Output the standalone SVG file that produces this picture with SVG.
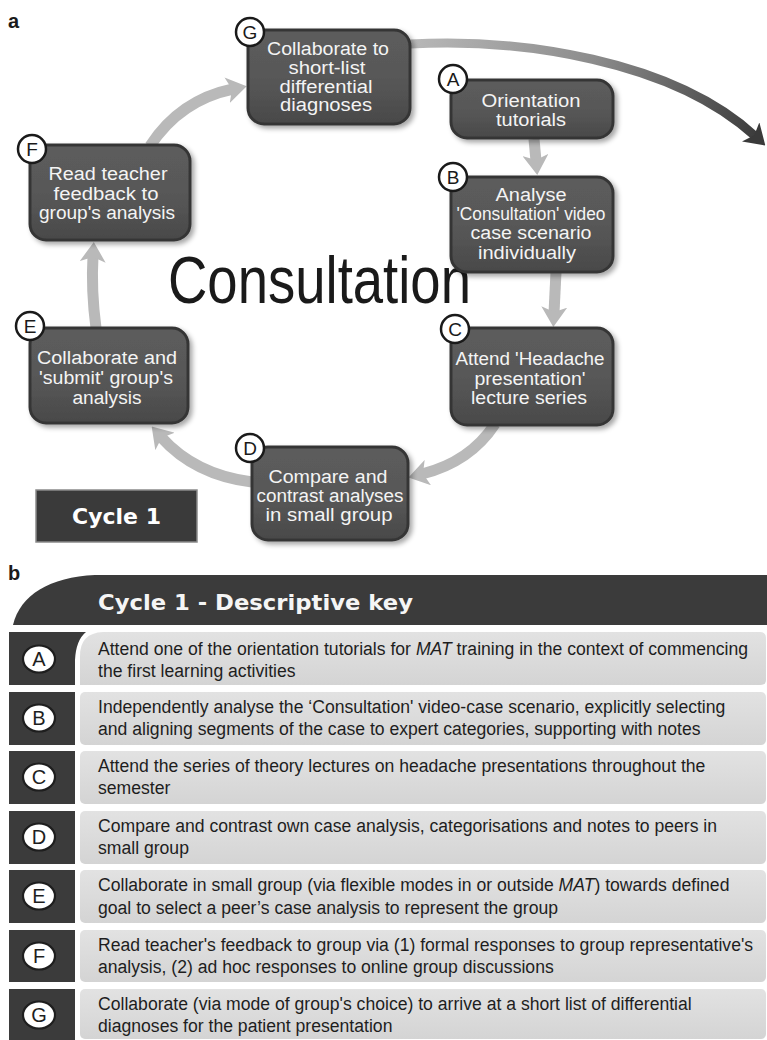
<svg xmlns="http://www.w3.org/2000/svg" width="767" height="1040" viewBox="0 0 767 1040">
<style>
.lbl{font-family:"Liberation Sans",Arial,sans-serif;font-weight:bold;font-size:20px;fill:#1a1a1a}
.box{fill:url(#boxg);stroke:#363636;stroke-width:3;filter:url(#sh)}
.nt{font-family:"Liberation Sans",Arial,sans-serif;font-size:18px;fill:#f4f4f4;text-anchor:middle}
.badge{fill:#fff;stroke:#1a1a1a;stroke-width:2.5}
.bt{font-family:"Liberation Sans",Arial,sans-serif;font-size:19px;fill:#1a1a1a;text-anchor:middle}
.conn{fill:none;stroke:#b9b9b9;stroke-width:11}
.dark{fill:#3b3b3b}
.row{fill:url(#rowg)}
.rt{font-family:"Liberation Sans",Arial,sans-serif;font-size:17.6px;fill:#1e1e1e}
.kb{fill:#fff;stroke:#1e1e1e;stroke-width:2.2}
.kt{font-family:"Liberation Sans",Arial,sans-serif;font-size:20px;fill:#1e1e1e;text-anchor:middle}
</style>
<defs>
<linearGradient id="boxg" x1="0" y1="0" x2="0" y2="1">
<stop offset="0" stop-color="#5c5c5c"/><stop offset="0.5" stop-color="#585858"/><stop offset="1" stop-color="#494949"/>
</linearGradient>
<linearGradient id="rowg" x1="0" y1="0" x2="0" y2="1">
<stop offset="0" stop-color="#e2e2e2"/><stop offset="1" stop-color="#d4d4d4"/>
</linearGradient>
<linearGradient id="bigg" gradientUnits="userSpaceOnUse" x1="410" y1="44" x2="760" y2="140">
<stop offset="0" stop-color="#b8b8b8"/><stop offset="0.5" stop-color="#8c8c8c"/><stop offset="1" stop-color="#3a3a3a"/>
</linearGradient>
<filter id="sh" x="-10%" y="-10%" width="130%" height="130%">
<feDropShadow dx="3" dy="3" stdDeviation="2.5" flood-color="#000" flood-opacity="0.35"/>
</filter>
<marker id="ah" viewBox="0 0 20 26" refX="6" refY="13" markerWidth="20" markerHeight="26" markerUnits="userSpaceOnUse" orient="auto">
<path d="M0 0 L20 13 L0 26 L5 13 Z" fill="#b9b9b9"/>
</marker>
<marker id="ahd" viewBox="0 0 20 26" refX="6" refY="13" markerWidth="20" markerHeight="26" markerUnits="userSpaceOnUse" orient="auto">
<path d="M0 0 L20 13 L0 26 L5 13 Z" fill="#3a3a3a"/>
</marker>
</defs>
<rect width="767" height="1040" fill="#fff"/>

<text x="8" y="28" class="lbl">a</text>

<g id="connectors">
<path class="conn" d="M534 139 L536 161" marker-end="url(#ah)"/>
<path class="conn" d="M556 272 L554 313" marker-end="url(#ah)"/>
<path class="conn" d="M495 424 Q470 462 422 474" marker-end="url(#ah)"/>
<path class="conn" d="M252 482 Q195 475 161 437" marker-end="url(#ah)"/>
<path class="conn" d="M96 328 Q91 290 93 256" marker-end="url(#ah)"/>
<path class="conn" d="M150 146 Q180 100 233 89" marker-end="url(#ah)"/>
<path d="M410 44 C520 38 672 60 755 136" fill="none" stroke="url(#bigg)" stroke-width="9" marker-end="url(#ahd)"/>
</g>

<text transform="scale(0.826 1)" x="203.4" y="303" font-family="Liberation Sans, Arial, sans-serif" font-size="66" fill="#1a1a1a">Consultation</text>

<g id="node-G">
<rect class="box" x="248" y="30" width="162" height="94" rx="16"/>
<text class="nt" x="328" y="55" textLength="122" lengthAdjust="spacingAndGlyphs">Collaborate to</text>
<text class="nt" x="327" y="74" textLength="77" lengthAdjust="spacingAndGlyphs">short-list</text>
<text class="nt" x="326" y="93" textLength="93" lengthAdjust="spacingAndGlyphs">differential</text>
<text class="nt" x="326" y="111" textLength="92" lengthAdjust="spacingAndGlyphs">diagnoses</text>
<circle class="badge" cx="250" cy="32" r="14"/><text class="bt" x="250" y="39">G</text>
</g>

<g id="node-A">
<rect class="box" x="451" y="80" width="162" height="58" rx="16"/>
<text class="nt" x="531" y="107" textLength="99" lengthAdjust="spacingAndGlyphs">Orientation</text>
<text class="nt" x="531" y="126" textLength="70" lengthAdjust="spacingAndGlyphs">tutorials</text>
<circle class="badge" cx="453" cy="79" r="14"/><text class="bt" x="453" y="86">A</text>
</g>

<g id="node-B">
<rect class="box" x="451" y="177" width="162" height="95" rx="16"/>
<text class="nt" x="531" y="201" textLength="71" lengthAdjust="spacingAndGlyphs">Analyse</text>
<text class="nt" x="531" y="220" textLength="149" lengthAdjust="spacingAndGlyphs">'Consultation' video</text>
<text class="nt" x="531" y="239" textLength="121" lengthAdjust="spacingAndGlyphs">case scenario</text>
<text class="nt" x="527" y="259" textLength="98" lengthAdjust="spacingAndGlyphs">individually</text>
<circle class="badge" cx="453" cy="177" r="14"/><text class="bt" x="453" y="184">B</text>
</g>

<g id="node-C">
<rect class="box" x="451" y="328" width="162" height="97" rx="16"/>
<text class="nt" x="530" y="365" textLength="149" lengthAdjust="spacingAndGlyphs">Attend 'Headache</text>
<text class="nt" x="530" y="385" textLength="111" lengthAdjust="spacingAndGlyphs">presentation'</text>
<text class="nt" x="529" y="404" textLength="116" lengthAdjust="spacingAndGlyphs">lecture series</text>
<circle class="badge" cx="455" cy="329" r="14"/><text class="bt" x="455" y="336">C</text>
</g>

<g id="node-D">
<rect class="box" x="252" y="447" width="156" height="93" rx="16"/>
<text class="nt" x="328" y="483" textLength="119" lengthAdjust="spacingAndGlyphs">Compare and</text>
<text class="nt" x="330" y="502" textLength="147" lengthAdjust="spacingAndGlyphs">contrast analyses</text>
<text class="nt" x="329" y="521" textLength="127" lengthAdjust="spacingAndGlyphs">in small group</text>
<circle class="badge" cx="250" cy="448" r="14"/><text class="bt" x="250" y="455">D</text>
</g>

<g id="node-E">
<rect class="box" x="30" y="328" width="158" height="95" rx="16"/>
<text class="nt" x="107" y="364" textLength="140" lengthAdjust="spacingAndGlyphs">Collaborate and</text>
<text class="nt" x="106" y="384" textLength="134" lengthAdjust="spacingAndGlyphs">'submit' group's</text>
<text class="nt" x="107" y="404" textLength="69" lengthAdjust="spacingAndGlyphs">analysis</text>
<circle class="badge" cx="30" cy="326" r="14"/><text class="bt" x="30" y="333">E</text>
</g>

<g id="node-F">
<rect class="box" x="30" y="145" width="160" height="95" rx="16"/>
<text class="nt" x="108" y="180" textLength="119" lengthAdjust="spacingAndGlyphs">Read teacher</text>
<text class="nt" x="106" y="200" textLength="105" lengthAdjust="spacingAndGlyphs">feedback to</text>
<text class="nt" x="107" y="219" textLength="136" lengthAdjust="spacingAndGlyphs">group's analysis</text>
<circle class="badge" cx="32" cy="149" r="14"/><text class="bt" x="32" y="156">F</text>
</g>

<g id="cycle-label">
<rect x="36" y="490" width="161" height="52" fill="#3a3a3a" stroke="#8a8a8a" stroke-width="1.5"/>
<text x="116.5" y="524" font-family="DejaVu Sans, Verdana, sans-serif" font-weight="bold" font-size="22" fill="#fff" text-anchor="middle">Cycle 1</text>
</g>

<text x="8" y="580" class="lbl">b</text>

<g id="key-header">
<path class="dark" d="M13 625 C20 595 50 577 95 575 L767 575 L767 625 Z"/>
<text x="98" y="610" font-family="DejaVu Sans, Verdana, sans-serif" font-weight="bold" font-size="21" fill="#f5f5f5" textLength="315" lengthAdjust="spacingAndGlyphs">Cycle 1 - Descriptive key</text>
</g>

<g id="key-A">
<path class="dark" d="M9 632 L86 632 Q76 640 75 660 L75 685 L9 685 Z"/>
<path class="row" d="M80 685 L80 656 Q80 633 103 632 L760 632 Q766 632 766 638 L766 680 Q766 685 760 685 Z"/>
<ellipse class="kb" cx="39" cy="659" rx="16" ry="13.5"/><text class="kt" x="39" y="666">A</text>
<text class="rt" x="98" y="655">Attend one of the orientation tutorials for <tspan font-style="italic">MAT</tspan> training in the context of commencing</text>
<text class="rt" x="98" y="677">the first learning activities</text>
</g>

<g id="key-B">
<rect class="dark" x="9" y="692" width="66" height="53"/>
<rect class="row" x="80" y="692" width="686" height="53" rx="5"/>
<ellipse class="kb" cx="39" cy="718" rx="16" ry="13.5"/><text class="kt" x="39" y="725">B</text>
<text class="rt" x="98" y="713">Independently analyse the ‘Consultation' video-case scenario, explicitly selecting</text>
<text class="rt" x="98" y="735">and aligning segments of the case to expert categories, supporting with notes</text>
</g>

<g id="key-C">
<rect class="dark" x="9" y="751" width="66" height="53"/>
<rect class="row" x="80" y="751" width="686" height="53" rx="5"/>
<ellipse class="kb" cx="39" cy="777" rx="16" ry="13.5"/><text class="kt" x="39" y="784">C</text>
<text class="rt" x="98" y="772">Attend the series of theory lectures on headache presentations throughout the</text>
<text class="rt" x="98" y="794">semester</text>
</g>

<g id="key-D">
<rect class="dark" x="9" y="811" width="66" height="53"/>
<rect class="row" x="80" y="811" width="686" height="53" rx="5"/>
<ellipse class="kb" cx="39" cy="837" rx="16" ry="13.5"/><text class="kt" x="39" y="844">D</text>
<text class="rt" x="98" y="832">Compare and contrast own case analysis, categorisations and notes to peers in</text>
<text class="rt" x="98" y="854">small group</text>
</g>

<g id="key-E">
<rect class="dark" x="9" y="870" width="66" height="53"/>
<rect class="row" x="80" y="870" width="686" height="53" rx="5"/>
<ellipse class="kb" cx="39" cy="896" rx="16" ry="13.5"/><text class="kt" x="39" y="903">E</text>
<text class="rt" x="98" y="891">Collaborate in small group (via flexible modes in or outside <tspan font-style="italic">MAT</tspan>) towards defined</text>
<text class="rt" x="98" y="914">goal to select a peer’s case analysis to represent the group</text>
</g>

<g id="key-F">
<rect class="dark" x="9" y="930" width="66" height="52"/>
<rect class="row" x="80" y="930" width="686" height="52" rx="5"/>
<ellipse class="kb" cx="39" cy="956" rx="16" ry="13.5"/><text class="kt" x="39" y="963">F</text>
<text class="rt" x="98" y="951">Read teacher's feedback to group via (1) formal responses to group representative's</text>
<text class="rt" x="98" y="973">analysis, (2) ad hoc responses to online group discussions</text>
</g>

<g id="key-G">
<rect class="dark" x="9" y="989" width="66" height="55"/>
<rect class="row" x="80" y="989" width="686" height="50" rx="5"/>
<ellipse class="kb" cx="39" cy="1015" rx="16" ry="13.5"/><text class="kt" x="39" y="1022">G</text>
<text class="rt" x="98" y="1010">Collaborate (via mode of group's choice) to arrive at a short list of differential</text>
<text class="rt" x="98" y="1032">diagnoses for the patient presentation</text>
</g>
</svg>
